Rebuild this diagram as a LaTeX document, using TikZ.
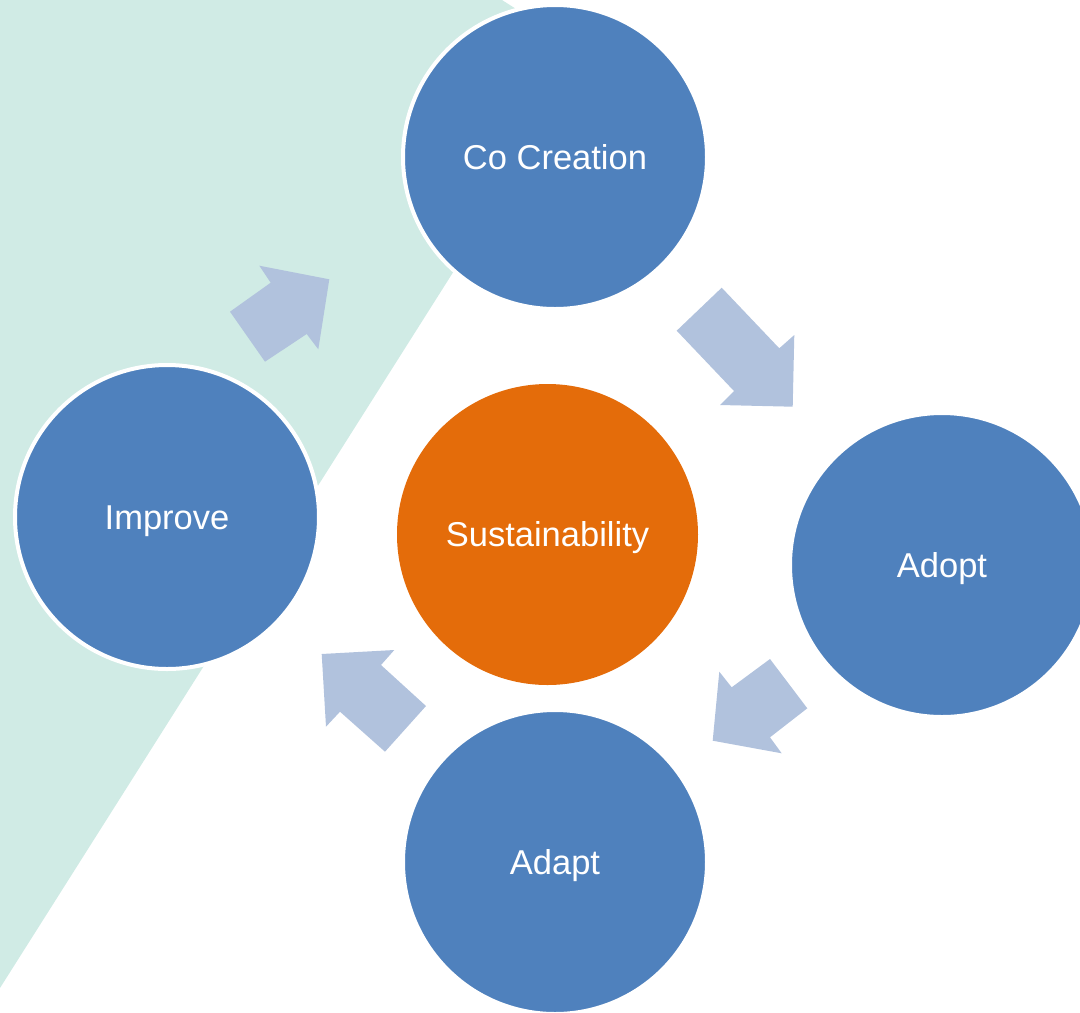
\documentclass[tikz,border=0pt]{standalone}
\usepackage{fontspec}
\setmainfont{Liberation Sans}
\definecolor{cblue}{HTML}{4F81BD}
\definecolor{corange}{HTML}{E46C0A}
\definecolor{carrow}{HTML}{B1C2DD}
\definecolor{cteal}{HTML}{D0EBE5}
\tikzset{
  circ/.style={circle, draw=white, line width=4pt, minimum size=304pt, inner sep=0pt,
    text=white, font=\fontsize{34.5}{40}\selectfont, text height=24.7pt, text depth=0pt},
  bluecirc/.style={circ, fill=cblue},
  orangecirc/.style={circ, fill=corange, draw=none, minimum size=301pt},
  blockarrow/.style={fill=carrow},
}
\begin{document}
\begin{tikzpicture}[x=1pt,y=-1pt]
\useasboundingbox (0,0) rectangle (1080,1013);
% teal background band
\fill[cteal] (0,0) -- (502,0) -- (590,56) -- (0,988) -- cycle;
% circles
\node[bluecirc] (cocreation) at (555,157) {Co Creation};
\node[bluecirc] (improve) at (167,517) {Improve};
\node[orangecirc] (sust) at (547.5,534.5) {Sustainability};
\node[bluecirc] (adopt) at (942,565) {Adopt};
\node[bluecirc] (adapt) at (555,862) {Adapt};
% block arrows
\fill[blockarrow] (230,311.7) -- (270.7,282.7) -- (259.3,265.7) -- (329.3,279.3) -- (318.3,349.3) -- (306.7,334) -- (265,361.7) -- cycle;
\fill[blockarrow] (676.7,330.7) -- (721.7,287.7) -- (779.3,348.3) -- (794.3,335) -- (792.7,406.7) -- (720,405) -- (734,391) -- cycle;
\fill[blockarrow] (770,659) -- (807.3,708.3) -- (770,737.3) -- (781.7,753.3) -- (712.7,740.7) -- (719.3,671.7) -- (731.7,687.3) -- cycle;
\fill[blockarrow] (321.7,654) -- (394.3,650) -- (381,665) -- (426,706) -- (385,751.7) -- (340,711.7) -- (326,726.7) -- cycle;
\end{tikzpicture}
\end{document}
